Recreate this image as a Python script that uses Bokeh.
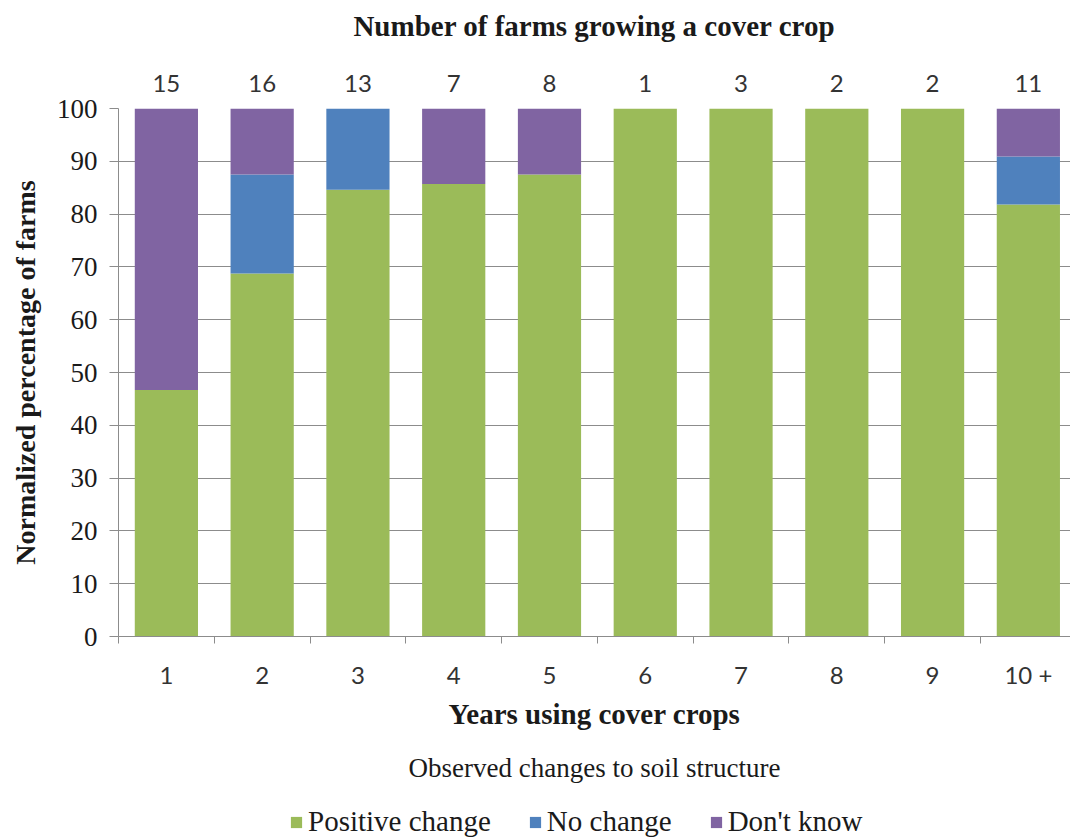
from bokeh.plotting import figure
from bokeh.layouts import column
from bokeh.models import (Range1d, FixedTicker, LinearAxis, Legend, LegendItem,
                          Title, ColumnDataSource)
from bokeh.embed import file_html
from bokeh.resources import INLINE

# ---- data ----
years = ["1", "2", "3", "4", "5", "6", "7", "8", "9", "10 +"]
farm_counts = [15, 16, 13, 7, 8, 1, 3, 2, 2, 11]
positive_change = [46.7, 68.75, 84.6, 85.7, 87.5, 100, 100, 100, 100, 81.8]
no_change = [0, 18.75, 15.4, 0, 0, 0, 0, 0, 0, 9.1]
dont_know = [53.3, 12.5, 0, 14.3, 12.5, 0, 0, 0, 0, 9.1]
series_names = ["Positive change", "No change", "Don't know"]
series_colors = ["#9BBB59", "#4F81BD", "#8064A2"]
y_ticks = [0, 10, 20, 30, 40, 50, 60, 70, 80, 90, 100]

SERIF = "Liberation Serif"
SANS = "Lato"
TXT = "#1a1a1a"
GRID = "#8c8c8c"

xs = list(range(1, len(years) + 1))
source = ColumnDataSource(dict(x=xs, pos=positive_change, noc=no_change, dk=dont_know))

p = figure(frame_width=952, frame_height=528, output_backend="svg", toolbar_location=None,
           x_range=Range1d(0.5, 10.44), y_range=Range1d(0, 100),
           min_border_left=118, min_border_right=0, min_border_top=108,
           min_border_bottom=166)
p.outline_line_color = None
p.background_fill_color = "white"

renderers = p.vbar_stack(["pos", "noc", "dk"], x="x", width=0.66, source=source,
                         fill_color=series_colors, line_color=None)

# top axis with farm counts (its label is the chart title)
top_axis = LinearAxis(ticker=FixedTicker(ticks=xs),
                      major_label_overrides={x: str(c) for x, c in zip(xs, farm_counts)})
top_axis.axis_line_color = None
top_axis.major_tick_line_color = None
top_axis.minor_tick_line_color = None
top_axis.major_tick_out = 0
top_axis.major_tick_in = 0
top_axis.major_label_text_font = SANS
top_axis.major_label_text_font_size = "24px"
top_axis.major_label_text_color = "#333333"
top_axis.major_label_standoff = 17
top_axis.axis_label = "Number of farms growing a cover crop"
top_axis.axis_label_text_font = SERIF
top_axis.axis_label_text_font_size = "29px"
top_axis.axis_label_text_font_style = "bold"
top_axis.axis_label_text_color = TXT
top_axis.axis_label_standoff = 30
p.add_layout(top_axis, "above")

# bottom axis
xa = p.below[0]
xa.ticker = FixedTicker(ticks=xs, minor_ticks=[x - 0.5 for x in xs] + [xs[-1] + 0.5])
xa.major_label_overrides = {x: lab for x, lab in zip(xs, years)}
xa.major_tick_line_color = None
xa.major_tick_out = 0
xa.major_tick_in = 0
xa.minor_tick_in = 0
xa.minor_tick_out = 7
xa.minor_tick_line_color = GRID
xa.axis_line_color = GRID
xa.major_label_text_font = SANS
xa.major_label_text_font_size = "24px"
xa.major_label_text_color = "#333333"
xa.major_label_standoff = 16
xa.axis_label = "Years using cover crops"
xa.axis_label_text_font = SERIF
xa.axis_label_text_font_size = "29px"
xa.axis_label_text_font_style = "bold"
xa.axis_label_text_color = TXT
xa.axis_label_standoff = 6

# left axis
ya = p.left[0]
ya.ticker = FixedTicker(ticks=y_ticks)
ya.major_tick_in = 0
ya.major_tick_out = 9
ya.major_tick_line_color = GRID
ya.minor_tick_line_color = None
ya.axis_line_color = GRID
ya.major_label_text_font = SERIF
ya.major_label_text_font_size = "27px"
ya.major_label_text_color = TXT
ya.major_label_standoff = 12
ya.axis_label = "Normalized percentage of farms"
ya.axis_label_text_font = SERIF
ya.axis_label_text_font_size = "28px"
ya.axis_label_text_font_style = "bold"
ya.axis_label_text_color = TXT
ya.axis_label_standoff = 13

p.xgrid.visible = False
p.ygrid.ticker = FixedTicker(ticks=y_ticks)
p.ygrid.grid_line_color = GRID
p.ygrid.grid_line_width = 1

# legend title below the axis
p.add_layout(Title(text="Observed changes to soil structure", align="center",
                   text_font=SERIF, text_font_size="27px", text_font_style="normal",
                   text_color=TXT, standoff=36), "below")

# ---- legend strip (separate small figure so it is not clipped) ----
lg = figure(width=1070, height=36, output_backend="svg", toolbar_location=None,
            x_range=Range1d(0, 1), y_range=Range1d(0, 1), min_border=0,
            x_axis_location=None, y_axis_location=None)
lg.outline_line_color = None
lg.grid.visible = False
# zero-size proxy glyphs, only used to give the legend its colour swatches
proxies = [lg.quad(left=[0], right=[0], top=[0], bottom=[0], fill_color=c, line_color=None)
           for c in series_colors]
legend = Legend(items=[LegendItem(label=n, renderers=[r]) for n, r in zip(series_names, proxies)],
                orientation="horizontal", location=(171, 0))
legend.label_text_font = SERIF
legend.label_text_font_size = "29px"
legend.label_text_color = TXT
legend.glyph_width = 14
legend.glyph_height = 14
legend.label_standoff = 5
legend.spacing = 37
legend.border_line_color = None
legend.background_fill_alpha = 0
legend.padding = 0
legend.margin = 0
lg.add_layout(legend, "center")

layout = column(p, lg, spacing=0)
open("out.html", "w").write(file_html(layout, INLINE))
